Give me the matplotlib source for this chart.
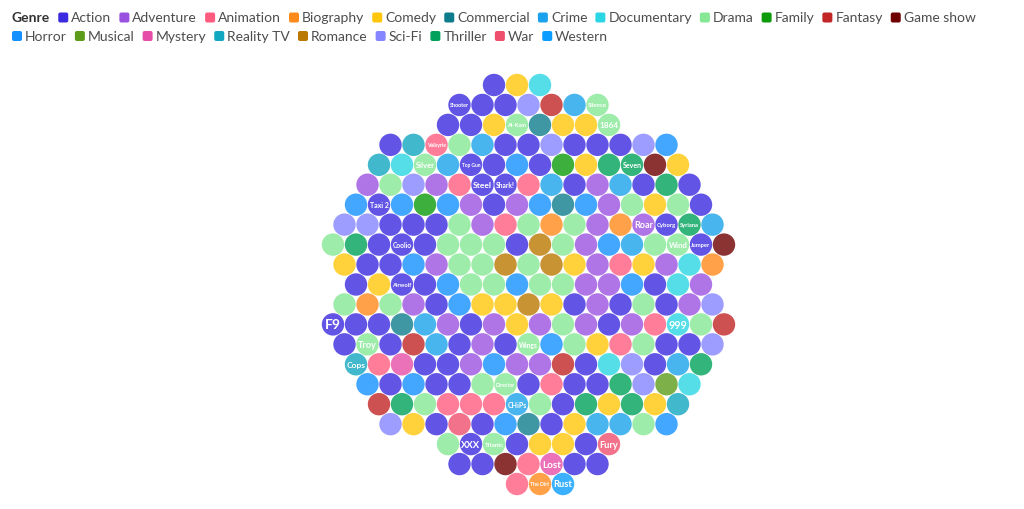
import matplotlib.pyplot as plt
from matplotlib.patches import Circle, FancyBboxPatch

plt.rcParams['font.family'] = ['Lato', 'DejaVu Sans']

# genres (legend order), codes used in the rows below, legend colours
genres = ['Action', 'Adventure', 'Animation', 'Biography', 'Comedy', 'Commercial',
          'Crime', 'Documentary', 'Drama', 'Family', 'Fantasy', 'Game show',
          'Horror', 'Musical', 'Mystery', 'Reality TV', 'Romance', 'Sci-Fi',
          'Thriller', 'War', 'Western']
codes = ['A', 'Ad', 'An', 'Bi', 'Co', 'Cm', 'Cr', 'Do', 'Dr', 'Fm', 'Fa', 'Gs',
         'Ho', 'Mu', 'My', 'Re', 'Ro', 'SF', 'Th', 'Wa', 'We']
genre_colors = ['#3b2be0', '#9b51e0', '#ff5c80', '#ff8a1c', '#ffc60a', '#0d7d8c',
                '#1aa3ec', '#2ad6e3', '#86e895', '#0b9b0b', '#c22525', '#6e0000',
                '#1490ff', '#5c9c1a', '#e64da8', '#12a7c0', '#b97800', '#8585ff',
                '#00a15a', '#ee4f6d', '#0a9cff']

# one string per row of bubbles: genre code, optionally ":title" (_ = space)
rows = [
    "A Co Do",
    "A:Shooter A A SF Fa Cr Dr:Silence",
    "A A Co Dr:Al-Kam Cm Co Co Dr:1864",
    "A Re An:Valkyrie Dr Cr A A SF A A A SF Ho",
    "Re Do Dr:Silver Cr A:Top_Gun A Ho A Fm Co Th Th:Seven Gs Co",
    "Ad Dr SF Ad An A:Steel A:Shark! An Cr A Ad Cr A Th A",
    "Ho A:Taxi_2 Ho Fm Ho Ad A Ad Ho Cm Ho Ad Dr Co Dr A",
    "SF SF A A A Dr Ad An Dr Bi Dr Ad Bi Ad:Roar A:Cyborg Th:Syriana Cr",
    "Dr Th A A:Coolio A Dr Dr Dr A Ro Dr Ad Ho Cr Dr Dr:Wind A:Jumper Gs",
    "Co A A Ho Ad Dr Dr Ro Dr Ro Co Ad An Co Ad Do Bi",
    "A Co A:Airwolf A Ho Dr Dr Ho Dr Dr Ad Ad Ho A Do Ad",
    "Dr Bi Dr Ad A Ho Co Co Ro Co A Ad A Dr A Ad SF",
    "A:F9 A A Cm Cr Ad A Ad Co Ad Dr Ad A Ad An Do:999 Dr Fa",
    "A Dr:Troy A Fa Cr A Ad A Dr:Wings Ho Dr Co An Dr A A SF",
    "Re:Cops An My A A Ad Ho Ad Ad Fa A Do SF A Cr Th",
    "Ho A Ho A A Dr Dr:Director A An A A Th SF Mu Do",
    "Fa Th Dr An An An Cr:CHiPs Dr A Th Co Th Co Re",
    "SF Co A Wa A Ho Cm A Co Cr Cr Dr Ho",
    "Dr A:XXX Dr:Titanic A Co Co A Wa:Fury",
    "A A Gs An My:Lost A A",
    "An Bi:The_Dirt We:Rust",
]

# layout of the hex packing (first half-column of each row)
row_start = [-2, -5, -6, -11, -12, -13, -14, -15, -16, -15, -14, -15, -16,
             -15, -14, -13, -12, -11, -6, -5, 0]
cx0, cy0 = 517, 86
half_dx, dy, r = 11.5, 19.95, 11.2

color_of = dict(zip(codes, genre_colors))

fig = plt.figure(figsize=(10.24, 5.1), dpi=100)
ax = fig.add_axes([0, 0, 1, 1])
ax.set_xlim(0, 1024)
ax.set_ylim(510, 0)
ax.axis('off')
renderer = fig.canvas.get_renderer()

# bubbles
for i, row in enumerate(rows):
    for j, tok in enumerate(row.split()):
        code, _, title = tok.partition(':')
        x = cx0 + half_dx * (row_start[i] + 2 * j)
        y = cy0 + dy * i
        ax.add_patch(Circle((x, y), r, fc=color_of[code], ec='none', alpha=0.8))
        if title:
            title = title.replace('_', ' ')
            t = ax.text(x, y, title, fontsize=10, color='white', fontweight='bold',
                        ha='center', va='center')
            w = t.get_window_extent(renderer).width
            t.set_fontsize(min(10, 10 * 19 / w))

# legend
fs = 10
lx, ly = 12, 18.5
t = ax.text(lx, ly, 'Genre', fontsize=fs, fontweight='bold', color='#333333',
            ha='left', va='center')
lx += t.get_window_extent(renderer).width + 8
for g, c in zip(genres, genre_colors):
    t = ax.text(0, ly, g, fontsize=fs, color='#4d4d4d', ha='left', va='center')
    w = t.get_window_extent(renderer).width
    if lx + 13 + w > 1014:
        lx, ly = 12, ly + 18.5
        t.set_y(ly)
    ax.add_patch(FancyBboxPatch((lx, ly - 5), 10, 10,
                                boxstyle='round,pad=0,rounding_size=2',
                                fc=c, ec='none'))
    t.set_x(lx + 13)
    lx += 13 + w + 8

fig.savefig('out.png', dpi=100)
